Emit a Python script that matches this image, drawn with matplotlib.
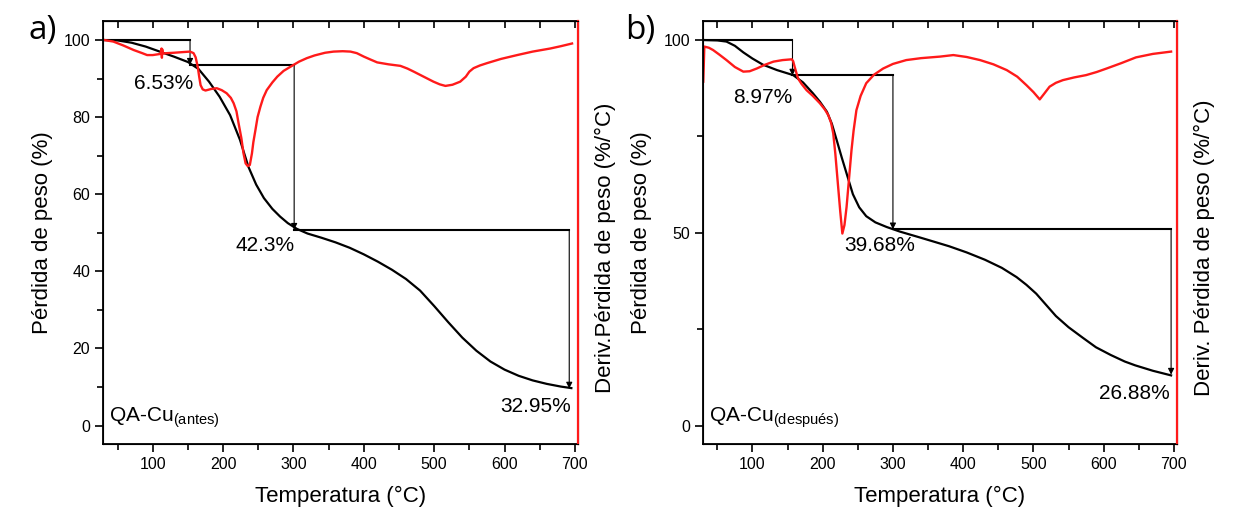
import matplotlib
matplotlib.use("Agg")
import matplotlib.pyplot as plt
from matplotlib.ticker import MultipleLocator

plt.rcParams['font.family'] = ['Liberation Sans', 'DejaVu Sans']

# panel a) QA-Cu antes
tga_a_t = [30, 50, 70, 90, 110, 130, 150, 165, 180, 195, 210, 224, 236, 247, 258, 270, 281, 292, 305,
           320, 340, 360, 380, 400, 420, 440, 460, 480, 500, 520, 540, 560, 580, 600, 620, 640, 660, 680, 695]
tga_a_w = [100, 99.9, 99.3, 98.3, 97, 95.7, 94.3, 92.5, 89.2, 85.3, 80.5, 74.1, 67.1, 62.5, 59.0, 56.2, 54.2, 52.5, 51.0,
           49.8, 48.7, 47.5, 46.1, 44.4, 42.5, 40.4, 38.0, 35.0, 31.0, 26.8, 22.8, 19.4, 16.6, 14.5, 12.9, 11.7, 10.8, 10.1, 9.7]
dtg_a_t = [31, 44, 58, 73, 85, 92, 100, 111, 112.5, 113, 113.5, 114, 120, 130, 145, 153, 158, 161, 164, 166, 168,
           171, 175, 183, 191, 198, 205, 211, 215, 219, 222, 226, 229, 232, 235, 238, 241, 243, 246, 249, 253,
           257, 262, 270, 277, 286, 296, 308, 319, 330, 345, 357, 370, 381, 390, 400, 410, 419, 435, 452, 462,
           471, 485, 499, 508, 516, 526, 537, 545, 550, 556, 565, 575, 595, 618, 640, 665, 680, 696]
dtg_a_d = [100, 99.6, 98.6, 97.4, 96.6, 96.1, 96.1, 96.4, 97.8, 95.4, 97.6, 96.5, 96.6, 96.7, 96.9, 97, 96.6, 95.5, 93, 90.5, 88.3,
           87.2, 86.9, 87.3, 87.5, 87, 86.2, 85, 83.6, 81.5, 78.4, 74.5, 70.6, 68, 67.3, 67.6, 70.6, 73.5, 76.7, 80, 82.7,
           85, 87, 89, 90.5, 92, 93.1, 94.4, 95.3, 96, 96.7, 97, 97.1, 97, 96.6, 95.7, 94.9, 94.2, 93.7, 93.3, 92.6,
           91.8, 90.5, 89.2, 88.5, 88.1, 88.4, 89.2, 90.5, 91.8, 92.7, 93.4, 94, 95.1, 96.1, 97, 97.8, 98.4, 99.1]
steps_a_t = [30, 153, 301, 692]
steps_a_w = [100, 93.6, 50.8, 9.6]
losses_a = ['6.53%', '42.3%', '32.95%']
loss_pos_a = [(115, 88.6), (260, 46.8), (644, 4.8)]

# panel b) QA-Cu despues
tga_b_t = [30, 50, 63, 75, 87, 100, 115, 135, 158, 172, 186, 196, 206, 213, 220, 227, 234, 243, 252, 262, 275,
           291, 310, 338, 360, 380, 405, 431, 455, 476, 490, 504, 518, 532, 550, 570, 589, 610, 630, 645, 670, 696]
tga_b_w = [100, 99.9, 99.6, 98.5, 96.8, 95.2, 93.6, 92.2, 90.9, 89, 86.2, 84, 81.4, 78.3, 74, 69.6, 65.4, 60, 56.6, 54.3, 52.7,
           51.5, 50.3, 48.8, 47.6, 46.5, 44.9, 43, 40.9, 38.5, 36.5, 34.2, 31.3, 28.4, 25.5, 22.8, 20.3, 18.3, 16.6, 15.6, 14.2, 13]
dtg_b_t = [30, 31.5, 38, 44, 53, 63, 75, 87, 96, 106, 118, 130, 143, 156, 158, 160, 163, 165, 170, 177, 186,
           196, 203, 208, 212, 215, 218, 222, 225, 228, 231, 234, 237, 241, 244, 248, 254, 262, 273, 286, 300,
           319, 340, 367, 386, 405, 424, 443, 462, 477, 490, 500, 509, 515, 523, 532, 542, 558, 575, 590, 604,
           625, 646, 670, 696]
dtg_b_d = [89.2, 98.3, 98, 97.4, 96.2, 94.8, 93, 91.8, 91.9, 92.6, 93.6, 94.4, 94.8, 95, 94.5, 93.1, 91.2, 90, 88.6, 87, 85.5,
           83.6, 82, 80.5, 78.5, 75.8, 70.5, 61.9, 55.5, 49.8, 52, 56.7, 63, 71.4, 76.5, 81.8, 85.5, 88.8, 91, 92.6, 93.8,
           94.8, 95.3, 95.7, 96.1, 95.6, 94.8, 93.7, 92.2, 90.5, 88.3, 86.5, 84.6, 86, 87.9, 88.9, 89.6, 90.3, 90.9, 91.7, 92.6,
           94, 95.5, 96.4, 97]
steps_b_t = [30, 157, 300, 696]
steps_b_w = [100, 90.8, 50.9, 13.2]
losses_b = ['8.97%', '39.68%', '26.88%']
loss_pos_b = [(115, 85.2), (281, 46.8), (644, 8.3)]


def panel(ax, tt, tw, dt, dd, st, sw, losses, lpos, sample, ymajor, yminor, rlabel):
    ax.plot(tt, tw, color='black', lw=1.6, zorder=3)
    ax2 = ax.twinx()
    ax2.plot(dt, dd, color='#ff1a1a', lw=1.7, zorder=2)
    for i in range(len(st) - 1):
        ax.plot([st[i], st[i + 1]], [sw[i], sw[i]], color='black', lw=1.5)
        ax.annotate('', xy=(st[i + 1], sw[i + 1]), xytext=(st[i + 1], sw[i]),
                    arrowprops=dict(arrowstyle='-|>', lw=0.8, color='black',
                                    mutation_scale=9, shrinkA=0, shrinkB=0))
    for txt, (x, y) in zip(losses, lpos):
        ax.text(x, y, txt, fontsize=15, ha='center', va='center')
    ax.text(38, 2, 'QA-Cu$_{\\mathregular{(' + sample + ')}}$', fontsize=15, ha='left', va='center')

    for a in (ax, ax2):
        a.set_xlim(30, 704)
        a.set_ylim(-4.8, 105)
    ax.xaxis.set_major_locator(MultipleLocator(100))
    ax.xaxis.set_minor_locator(MultipleLocator(50))
    ax.yaxis.set_major_locator(MultipleLocator(ymajor))
    ax.yaxis.set_minor_locator(MultipleLocator(yminor))
    ax.tick_params(axis='x', which='both', direction='out', top=False, labelsize=11.5)
    ax.tick_params(axis='y', which='both', direction='out', right=False, labelsize=11.5)
    ax.tick_params(which='major', length=6, width=1.2)
    ax.tick_params(which='minor', length=4, width=1.2)
    # inward ticks on the top spine
    sec = ax.secondary_xaxis('top')
    sec.xaxis.set_major_locator(MultipleLocator(100))
    sec.xaxis.set_minor_locator(MultipleLocator(50))
    sec.tick_params(which='both', direction='in', length=5, width=1.2, labeltop=False)
    ax2.set_yticks([])
    for s in ('left', 'bottom', 'top'):
        ax.spines[s].set_linewidth(1.3)
    ax2.spines['right'].set_color('#ff1a1a')
    ax2.spines['right'].set_linewidth(1.6)
    ax.set_xlabel('Temperatura (°C)', fontsize=16, labelpad=10)
    ax.set_ylabel('Pérdida de peso (%)', fontsize=16, labelpad=8)
    ax2.set_ylabel(rlabel, fontsize=16)
    ax2.yaxis.set_label_coords(1.036, 0.463)


fig = plt.figure(figsize=(12.41, 5.19), dpi=100)
ax_a = fig.add_axes([0.0834, 0.1445, 0.3821, 0.8155])
ax_b = fig.add_axes([0.5667, 0.1445, 0.3815, 0.8155])

panel(ax_a, tga_a_t, tga_a_w, dtg_a_t, dtg_a_d, steps_a_t, steps_a_w, losses_a, loss_pos_a,
      'antes', 20, 10, 'Deriv.Pérdida de peso (%/°C)')
panel(ax_b, tga_b_t, tga_b_w, dtg_b_t, dtg_b_d, steps_b_t, steps_b_w, losses_b, loss_pos_b,
      'después', 50, 25, 'Deriv. Pérdida de peso (%/°C)')

fig.text(0.034, 0.942, 'a)', fontsize=24, family='Open Sans', ha='center', va='center')
fig.text(0.516, 0.942, 'b)', fontsize=24, family='Open Sans', ha='center', va='center')

fig.savefig('out.png', dpi=100)
